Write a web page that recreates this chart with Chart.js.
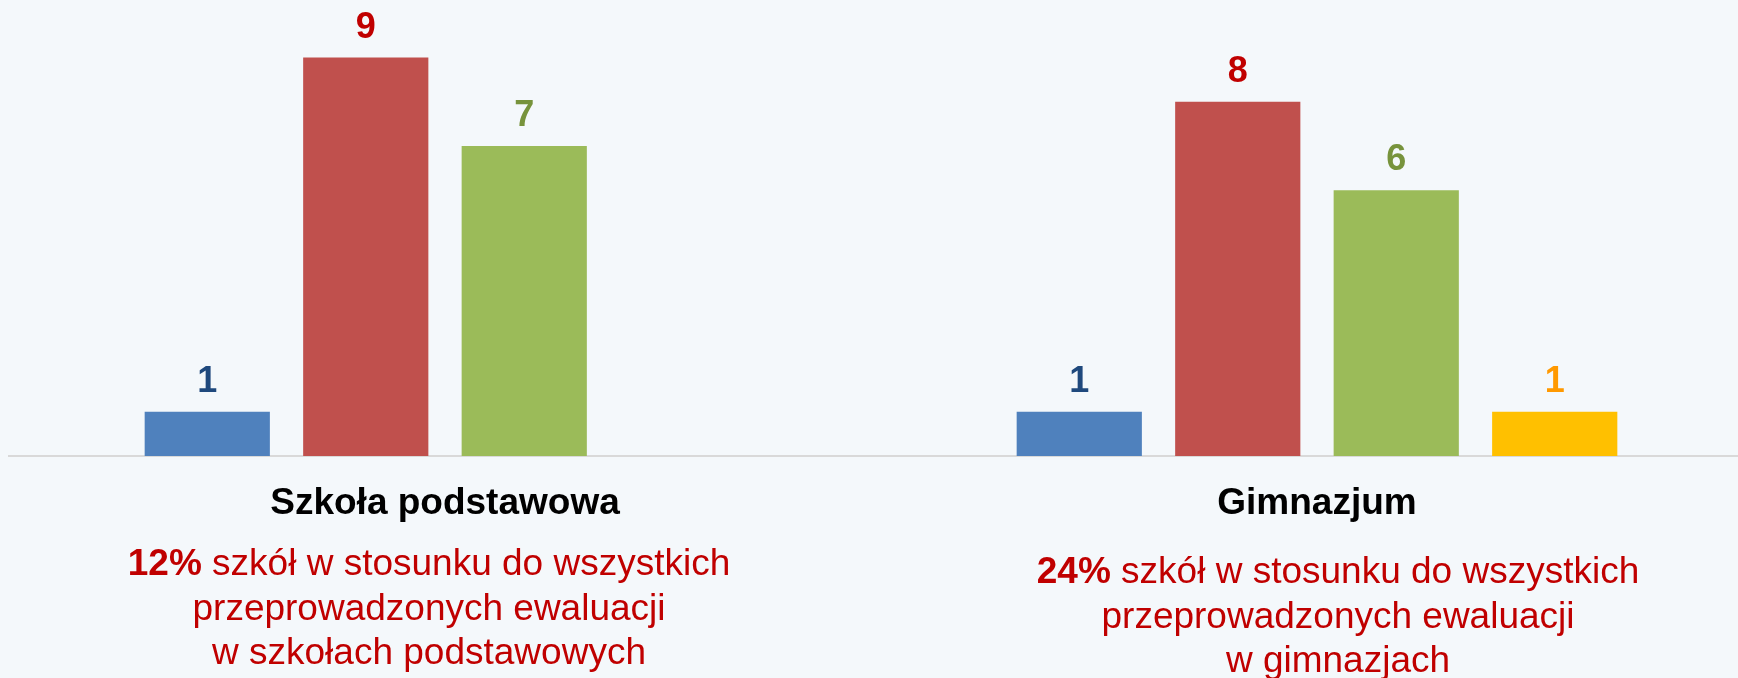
<!DOCTYPE html>
<html lang="pl">
<head>
<meta charset="utf-8">
<title>Ewaluacja szkół</title>
<script src="https://cdn.jsdelivr.net/npm/chart.js@4.4.1/dist/chart.umd.min.js"></script>
<style>
  html, body { margin: 0; padding: 0; background: #F4F8FB; overflow: hidden; }
  #wrap { width: 1760px; height: 678px; }
</style>
</head>
<body>
<div id="wrap"><canvas id="myChart"></canvas></div>
<script>
// Chart data
const categories = ["Szkoła podstawowa", "Gimnazjum"];
const seriesBlue = [1, 1];
const seriesRed = [9, 8];
const seriesGreen = [7, 6];
const seriesYellow = [null, 1];

// Text under each group
const percentText = ["12%", "24%"];
const firstLineRest = [" szkół w stosunku do wszystkich", " szkół w stosunku do wszystkich"];
const secondLine = ["przeprowadzonych ewaluacji", "przeprowadzonych ewaluacji"];
const thirdLine = ["w szkołach podstawowych", "w gimnazjach"];

const FONT = '"Liberation Sans", Arial, Helvetica, sans-serif';
const barColors = ["#4F81BD", "#C0504D", "#9BBB59", "#FFC000"];
const labelColors = ["#1F497D", "#C00000", "#77933C", "#FF9900"];

// value labels above the bars
const valueLabels = {
  id: "valueLabels",
  afterDatasetsDraw(chart) {
    const ctx = chart.ctx;
    ctx.save();
    ctx.font = "bold 36px " + FONT;
    ctx.textAlign = "center";
    ctx.textBaseline = "alphabetic";
    chart.data.datasets.forEach((ds, i) => {
      const meta = chart.getDatasetMeta(i);
      meta.data.forEach((bar, j) => {
        const v = ds.data[j];
        if (v === null || v === undefined) return;
        ctx.fillStyle = labelColors[i];
        ctx.fillText(String(v), bar.x, bar.y - 20);
      });
    });
    ctx.restore();
  }
};

// category names and red notes below the axis
const groupText = {
  id: "groupText",
  afterDraw(chart) {
    const ctx = chart.ctx;
    const xScale = chart.scales.x;
    const noteShift = [-16, 21];   // notes are a bit off the group centre
    const noteTop = [575, 583];
    const lineGap = 44.5;
    ctx.save();
    ctx.textBaseline = "alphabetic";
    categories.forEach((name, i) => {
      const cx = xScale.getPixelForValue(i);

      ctx.textAlign = "center";
      ctx.fillStyle = "#000000";
      ctx.font = "bold 37px " + FONT;
      ctx.fillText(name, cx, 514);

      const nx = cx + noteShift[i];
      let y = noteTop[i];
      ctx.fillStyle = "#C00000";

      // first line: bold percent + normal text, centred together
      ctx.font = "bold 37px " + FONT;
      const w1 = ctx.measureText(percentText[i]).width;
      ctx.font = "37px " + FONT;
      const w2 = ctx.measureText(firstLineRest[i]).width;
      let x0 = nx - (w1 + w2) / 2;
      ctx.textAlign = "left";
      ctx.font = "bold 37px " + FONT;
      ctx.fillText(percentText[i], x0, y);
      ctx.font = "37px " + FONT;
      ctx.fillText(firstLineRest[i], x0 + w1, y);

      ctx.textAlign = "center";
      y += lineGap;
      ctx.fillText(secondLine[i], nx, y);
      y += lineGap;
      ctx.fillText(thirdLine[i], nx, y);
    });
    ctx.restore();
  }
};

const ctx = document.getElementById("myChart").getContext("2d");
new Chart(ctx, {
  type: "bar",
  data: {
    labels: categories,
    datasets: [
      { label: "Seria 1", data: seriesBlue, backgroundColor: barColors[0] },
      { label: "Seria 2", data: seriesRed, backgroundColor: barColors[1] },
      { label: "Seria 3", data: seriesGreen, backgroundColor: barColors[2] },
      { label: "Seria 4", data: seriesYellow, backgroundColor: barColors[3] }
    ]
  },
  options: {
    responsive: true,
    maintainAspectRatio: false,
    animation: false,
    barPercentage: 0.79,
    categoryPercentage: 0.727,
    layout: { padding: { left: 9, right: 7, top: 0, bottom: 222 } },
    plugins: {
      legend: { display: false },
      tooltip: { enabled: false }
    },
    scales: {
      x: {
        grid: { display: false, drawTicks: false },
        ticks: { display: false },
        border: { display: true, color: "#D9D9D9", width: 2 }
      },
      y: {
        display: false,
        min: 0,
        max: 10.3
      }
    }
  },
  plugins: [valueLabels, groupText]
});
</script>
</body>
</html>
